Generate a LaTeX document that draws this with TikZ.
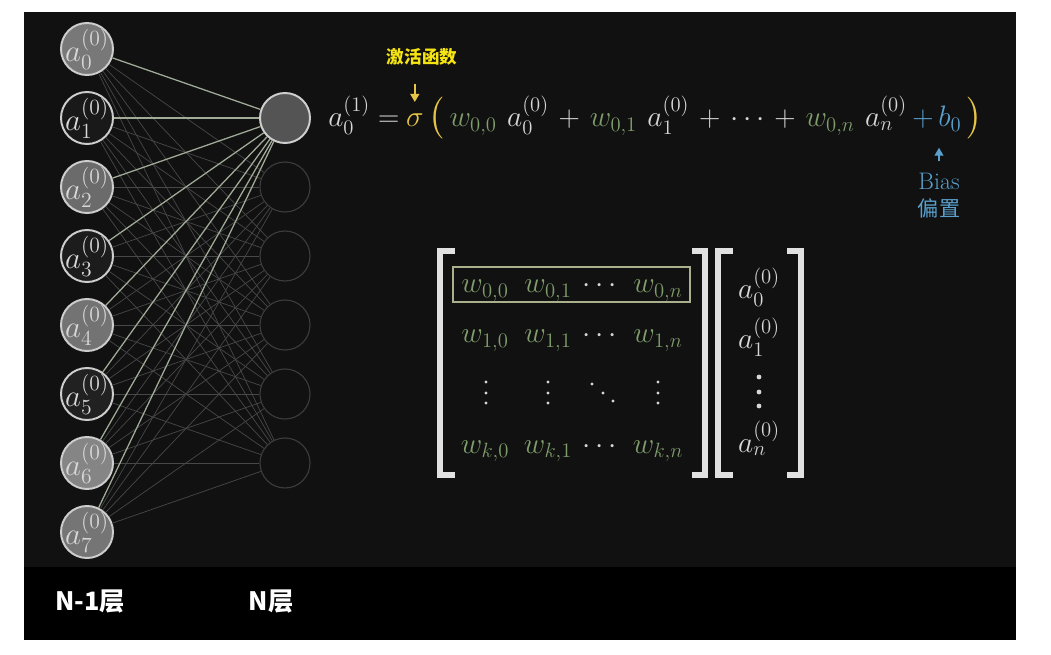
\RequirePackage{fix-cm}
\documentclass[tikz,border=0pt]{standalone}
\usepackage{amsmath}
\usepackage{fontspec}
\newfontfamily\cjk{Noto Sans CJK SC}
\usetikzlibrary{arrows.meta,positioning,calc,fit}

\definecolor{fondhaut}{RGB}{17,17,17}
\definecolor{traitneur}{RGB}{205,205,205}
\definecolor{traitsombre}{RGB}{60,60,60}
\definecolor{liaisonfaible}{RGB}{72,72,72}
\definecolor{liaisonforte}{RGB}{160,172,152}
\definecolor{poidsvert}{RGB}{128,158,108}
\definecolor{texteclair}{RGB}{215,215,215}
\definecolor{sigmajaune}{RGB}{230,196,70}
\definecolor{etiqjaune}{RGB}{245,228,20}
\definecolor{biaisbleu}{RGB}{90,160,205}
\definecolor{cadreligne}{RGB}{170,175,140}
\definecolor{crochet}{RGB}{225,225,225}

\begin{document}
\begin{tikzpicture}[
    x=0.025cm, y=-0.025cm,
    inneur/.style={circle, draw=traitneur, line width=1.4pt, minimum size=1.3cm, inner sep=0pt},
    neurtxt/.style={inner sep=0pt, text=texteclair, font=\fontsize{22}{26}\selectfont},
    outneur/.style={circle, draw=traitsombre, line width=0.8pt, minimum size=1.25cm, inner sep=0pt},
    outactif/.style={outneur, draw=traitneur, fill=white!33!black, line width=1.4pt},
    faible/.style={draw=liaisonfaible, line width=0.5pt},
    forte/.style={draw=liaisonforte, line width=0.9pt},
    eqtxt/.style={anchor=base west, inner sep=0pt, text=texteclair, font=\fontsize{21}{25}\selectfont},
    partxt/.style={eqtxt, text=sigmajaune, font=\fontsize{24}{29}\selectfont},
    wnode/.style={anchor=base, inner sep=0pt, text=poidsvert, font=\fontsize{21}{25}\selectfont},
    anode/.style={wnode, text=texteclair},
    brack/.style={draw=crochet, line width=0.15cm, line join=miter},
    selbox/.style={draw=cadreligne, line width=1.3pt, minimum width=5.925cm, minimum height=0.875cm},
    actlbl/.style={inner sep=0pt, text=etiqjaune, font=\cjk\bfseries\fontsize{12.5}{14}\selectfont},
    biaslbl/.style={inner sep=0pt, text=biaisbleu, font=\fontsize{17}{20}\selectfont},
    layerlbl/.style={inner sep=0pt, text=white, font=\cjk\bfseries\fontsize{18}{20}\selectfont},
    fleche/.style={-{Triangle[length=2mm, width=2.2mm]}, line width=1.1pt}
]

    % Fond et bande du bas
    \fill[white] (0,0) rectangle (1051,655);
    \fill[fondhaut] (24,12) rectangle (1016,567);
    \fill[black] (24,567) rectangle (1016,640);

    % Couche N-1
    \foreach \i/\f in {0/47,1/10,2/42,3/11,4/45,5/13,6/52,7/46}
        \node[inneur, fill=white!\f!black, label={[neurtxt]center:$a_{\i}^{(0)}$}] (in\i) at (87,{49+69*\i}) {};

    % Couche N
    \node[outactif] (out0) at (285,118) {};
    \foreach \j in {1,...,5}
        \node[outneur] (out\j) at (285,{118+69*\j}) {};

    % Liaisons
    \foreach \i in {0,...,7} {
        \foreach \j in {1,...,5}
            \draw[faible] (in\i) -- (out\j);
        \draw[forte] (in\i) -- (out0);
    }

    % Equation du premier neurone
    \node[eqtxt] (lhs) at (328,127) {$a_0^{(1)} =$};
    \node[eqtxt, text=sigmajaune] (sig) at ([xshift=0.15cm]lhs.base east) {$\sigma$};
    \node[partxt] (lpar) at ([xshift=0.1cm]sig.base east) {$\bigl($};
    \node[eqtxt] (terms) at ([xshift=0.12cm]lpar.base east) {$\textcolor{poidsvert}{w_{0,0}}\hspace{0.26cm} a_0^{(0)} \mkern2mu+\mkern2mu \textcolor{poidsvert}{w_{0,1}}\hspace{0.26cm} a_1^{(0)} \mkern2mu+\mkern2mu \cdots \mkern2mu+\mkern2mu \textcolor{poidsvert}{w_{0,n}}\hspace{0.26cm} a_n^{(0)}$};
    \node[eqtxt, text=biaisbleu] (bias) at ([xshift=0.12cm]terms.base east) {$+\,b_0$};
    \node[partxt] (rpar) at ([xshift=0.12cm]bias.base east) {$\bigr)$};

    % Etiquettes fonction d'activation et biais
    \node[actlbl] (act) at (422,57) {激活函数};
    \draw[fleche, draw=sigmajaune, fill=sigmajaune, shorten <=0.45cm, shorten >=0.3cm] (sig.north |- act.south) -- (sig.north);

    \node[biaslbl] (biasen) at (939,181) {Bias};
    \node[biaslbl, font=\cjk\fontsize{15}{18}\selectfont] (biaszh) at (939,208) {偏置};
    \draw[fleche, draw=biaisbleu, fill=biaisbleu, shorten <=0.28cm, shorten >=0.4cm] (biasen.north) -- (biasen.north |- bias.south);

    % Matrice des poids
    \foreach \r/\ry in {0/293,1/343,k/453} {
        \node[wnode] (w\r-0) at (485,\ry) {$w_{\r,0}$};
        \node[wnode] (w\r-1) at (548,\ry) {$w_{\r,1}$};
        \node[anode] (c\r) at (602,\ry) {$\cdots$};
        \node[wnode] (w\r-n) at (658,\ry) {$w_{\r,n}$};
    }
    \foreach \x in {486,548,658}
        \foreach \y in {382,393,403}
            \fill[texteclair] (\x,\y) circle (0.04cm);
    \foreach \x/\y in {592/384,603/393,613/401}
        \fill[texteclair] (\x,\y) circle (0.04cm);
    \node[selbox] (sel) at (571.5,284.5) {};

    % Vecteur des activations
    \foreach \r/\ry in {0/299,1/349,n/452}
        \node[anode] (v\r) at (759,\ry) {$a_{\r}^{(0)}$};
    \foreach \y in {377,392,406}
        \fill[texteclair] (759,\y) circle (0.06cm);

    % Crochets
    \draw[brack] (455,251) -- (440,251) -- (440,475) -- (455,475);
    \draw[brack] (692,251) -- (705,251) -- (705,475) -- (692,475);
    \draw[brack] (733,251) -- (718,251) -- (718,475) -- (733,475);
    \draw[brack] (787,251) -- (801,251) -- (801,475) -- (787,475);

    % Noms des couches
    \node[layerlbl] (lblprev) at (90,602) {N-1层};
    \node[layerlbl] (lblcur) at (271,602) {N层};

\end{tikzpicture}
\end{document}
